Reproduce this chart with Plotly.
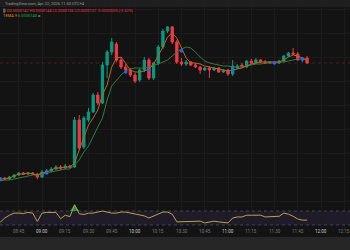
import plotly.graph_objects as go
import numpy as np
import pandas as pd

# 3-minute candles, prices in units of 1e-6
times = pd.date_range("2026-04-22 08:33", periods=67, freq="3min")
opens = [2.0,2.2,2.1,2.3,2.5,2.7,2.6,2.7,2.6,2.3, 2.8,2.9,3.1,3.3,3.2,3.4,3.3,8.0,5.3,8.0,
         8.8,10.5,9.7,13.5,14.8,15.6,14.0,13.3,13.0,12.5, 12.0,13.0,14.0,12.2,13.7,15.3,16.9,17.3,15.8,13.8,
         13.6,13.8,13.5,13.3,13.0,13.2,13.0,13.2,12.8,13.0, 12.6,13.2,13.5,13.3,13.9,13.7,14.0,13.8,13.7,13.8,
         13.7,13.9,14.4,14.7,14.6,14.0,14.2]
highs = [2.3,2.3,2.4,2.6,2.8,2.8,2.8,2.8,2.7,3.0, 3.1,3.3,3.5,3.5,3.6,3.5,8.3,8.5,8.4,9.2,
         10.7,10.8,13.8,15.0,16.2,15.8,14.3,13.6,13.2,12.7, 13.2,14.3,14.2,13.8,15.5,17.1,17.4,17.4,16.0,14.2,
         14.0,13.9,13.7,13.4,13.3,13.4,13.3,13.3,13.1,13.1, 14.0,13.6,13.7,14.0,14.1,14.2,14.1,14.0,13.9,13.9,
         14.0,14.5,14.8,15.2,14.8,14.3,14.4]
lows = [1.9,2.0,2.0,2.2,2.4,2.5,2.5,2.5,2.1,2.2, 2.6,2.8,3.0,3.0,3.1,3.2,3.2,5.0,5.1,7.8,
        8.7,9.5,9.6,12.2,14.5,13.8,13.1,12.8,12.3,11.7, 11.8,12.8,12.0,12.0,13.5,15.1,16.7,15.6,13.6,13.4,
        13.4,13.4,13.2,12.6,12.9,12.2,12.9,12.7,12.7,12.4, 12.4,13.1,13.2,13.2,13.6,13.6,13.7,13.6,13.6,13.6,
        13.6,13.8,14.3,14.5,13.9,13.8,13.6]
closes = [2.2,2.1,2.3,2.5,2.7,2.6,2.7,2.6,2.3,2.8, 2.9,3.1,3.3,3.2,3.4,3.3,8.0,5.2,8.2,8.8,
          10.5,9.7,13.5,14.8,15.8,14.0,13.3,13.0,12.5,11.9, 13.0,14.0,12.2,13.7,15.3,16.9,17.3,15.8,13.8,13.6,
          13.8,13.5,13.3,13.0,13.2,13.0,13.2,12.8,13.0,12.6, 13.4,13.4,13.3,13.9,13.7,14.0,13.8,13.7,13.8,13.7,
          13.9,14.4,14.7,14.6,14.0,14.2,13.7]
tema_fast = [2.1,2.1,2.2,2.4,2.6,2.6,2.7,2.6,2.5,2.7, 2.8,3.0,3.2,3.2,3.3,3.3,3.7,5.0,6.3,7.5,
             8.2,9.0,10.5,11.5,13.3,14.2,14.3,13.6,13.0,12.8, 12.8,12.9,13.1,13.6,14.4,15.3,16.3,16.7,16.2,15.2,
             14.2,13.7,13.7,13.6,13.4,13.3,13.2,13.1,13.0,12.9, 13.0,13.1,13.2,13.4,13.6,13.7,13.8,13.8,13.8,13.8,
             13.8,14.0,14.3,14.5,14.4,14.2,14.0]
tema_slow = [1.9,2.0,2.0,2.1,2.2,2.3,2.4,2.5,2.5,2.6, 2.7,2.8,2.9,3.0,3.1,3.1,3.5,4.0,4.8,5.4,
             6.4,7.3,8.2,10.0,11.4,12.0,12.5,12.9,13.1,13.2, 13.2,13.2,13.3,13.5,13.6,13.8,14.0,14.4,14.8,15.1,
             15.3,15.2,14.8,14.3,13.9,13.7,13.6,13.5,13.4,13.4, 13.3,13.3,13.3,13.4,13.5,13.6,13.6,13.7,13.7,13.7,
             13.8,13.8,13.9,14.0,14.1,14.1,14.0]
rsi = [38,50,58,64,64,63,66,64,40,64, 66,67,66,48,58,54,88,62,60,64,
       64,67,70,67,64,64,67,67,64,61, 58,56,50,56,61,67,67,61,39,39,
       39,39,39,41,36,39,41,39,38,36, 50,53,53,58,58,58,58,53,53,53,
       55,64,61,55,47,44,44]
cross_idx = [0, 10, 27, 32, 39, 50, 59, 65]
cross_price = [2.1, 2.7, 12.8, 13.0, 14.9, 13.0, 13.7, 14.1]
tick_times = pd.date_range("2026-04-22 08:45", "2026-04-22 12:15", freq="15min")

SCALE = 1e-6
BG = "#131313"
W, H = 350, 250

def py(px):  # paper fraction from pixel row
    return (H - px) / H

fig = go.Figure()

# RSI band shapes
fig.add_shape(type="rect", xref="x2 domain", yref="y2", x0=0, x1=1, y0=30, y1=70,
              fillcolor="rgba(126,87,194,0.12)", line_width=0, layer="below")
for lv in (70, 30):
    fig.add_shape(type="line", xref="x2 domain", yref="y2", x0=0, x1=1, y0=lv, y1=lv,
                  line=dict(color="rgba(120,123,134,0.45)", width=1, dash="dot"))

# last price line
fig.add_shape(type="line", xref="x domain", yref="y", x0=0, x1=1,
              y0=closes[-1] * SCALE, y1=closes[-1] * SCALE,
              line=dict(color="rgba(242,54,69,0.25)", width=1, dash="dot"))

fig.add_trace(go.Candlestick(
    x=times, open=np.array(opens) * SCALE, high=np.array(highs) * SCALE,
    low=np.array(lows) * SCALE, close=np.array(closes) * SCALE,
    increasing=dict(line=dict(color="#089981", width=1), fillcolor="#089981"),
    decreasing=dict(line=dict(color="#f23645", width=1), fillcolor="#f23645"),
    whiskerwidth=0, xaxis="x", yaxis="y", hoverinfo="skip"))
fig.add_trace(go.Scatter(x=times, y=np.array(tema_slow) * SCALE, mode="lines",
                         line=dict(color="#2f7d3e", width=1), xaxis="x", yaxis="y"))
fig.add_trace(go.Scatter(x=times, y=np.array(tema_fast) * SCALE, mode="lines",
                         line=dict(color="#b5651d", width=1), xaxis="x", yaxis="y"))
fig.add_trace(go.Scatter(x=times[cross_idx], y=np.array(cross_price) * SCALE, mode="markers",
                         marker=dict(color="#2962ff", size=3.5), xaxis="x", yaxis="y"))

# RSI
rsi_arr = np.array(rsi, dtype=float)
fig.add_trace(go.Scatter(x=times, y=[70] * len(rsi), mode="lines", line=dict(width=0),
                         xaxis="x2", yaxis="y2"))
fig.add_trace(go.Scatter(x=times, y=np.maximum(rsi_arr, 70), mode="lines", line=dict(width=0),
                         fill="tonexty", fillcolor="rgba(40,190,80,0.75)", xaxis="x2", yaxis="y2"))
fig.add_trace(go.Scatter(x=times, y=rsi_arr, mode="lines",
                         line=dict(color="#b8a24a", width=1), xaxis="x2", yaxis="y2"))

xr = ["2026-04-22 08:32:54", "2026-04-22 12:18:42"]

# price grid every 2.4e-6 starting 2.25e-6
p0, p1 = -0.3, 19.3
fig.update_layout(
    width=W, height=H, margin=dict(l=0, r=0, t=0, b=0),
    paper_bgcolor=BG, plot_bgcolor=BG, showlegend=False,
    xaxis=dict(domain=[0, 1], anchor="y", range=xr, type="date", showticklabels=False,
               tickvals=tick_times, showgrid=True, gridcolor="#1c1c1c", gridwidth=1,
               zeroline=False, rangeslider=dict(visible=False), showline=False),
    yaxis=dict(domain=[py(203), py(7)], anchor="x", range=[p0 * SCALE, p1 * SCALE],
               showticklabels=False, showgrid=True, gridcolor="#1c1c1c",
               tick0=2.25 * SCALE, dtick=2.4 * SCALE, zeroline=False),
    xaxis2=dict(domain=[0, 1], anchor="y2", range=xr, type="date", matches="x",
                tickvals=tick_times, showticklabels=False, showgrid=True, gridcolor="#1c1c1c",
                ticks="", zeroline=False, showline=False),
    yaxis2=dict(domain=[py(229), py(203)], anchor="x2", range=[18.6, 92.9],
                showticklabels=False, showgrid=False, zeroline=False),
)

# time labels
for t in tick_times:
    s = t.strftime("%H:%M")
    col = "#c8c8c8" if t.minute == 0 else "#7a7a7a"
    fig.add_annotation(xref="x2", yref="paper", x=t, y=py(231), xanchor="center", yanchor="middle",
                       text=s, showarrow=False, font=dict(family="Roboto", size=4.5, color=col))

# top & bottom bars
fig.add_shape(type="rect", xref="paper", yref="paper", x0=0, x1=1, y0=py(7), y1=1,
              fillcolor="#1f1f1f", line_width=0, layer="above")
fig.add_shape(type="rect", xref="paper", yref="paper", x0=0, x1=1, y0=0, y1=py(237),
              fillcolor="#262626", line_width=0, layer="above")

fig.add_annotation(xref="paper", yref="paper", x=0.008, y=py(3.5), xanchor="left", yanchor="middle",
                   text="TradingView.com, Apr 22, 2026 11:50 UTC+4", showarrow=False,
                   font=dict(family="Roboto", size=4, color="#9a9a9a"))
last = len(closes) - 1
chg = closes[last] - closes[last - 1]
leg1 = (f"<span style='color:#d0d0d0'>₿</span> O{opens[last]*SCALE:.7f} H{highs[last]*SCALE:.7f} "
        f"L{lows[last]*SCALE:.7f} C{closes[last]*SCALE:.7f} {chg*SCALE:+.7f} ({chg/closes[last-1]*100:+.2f}%)")
fig.add_annotation(xref="paper", yref="paper", x=0.003, y=py(10.5), xanchor="left", yanchor="middle",
                   text=leg1, showarrow=False, font=dict(family="Roboto", size=4, color="#f23645"))
leg2 = (f"<span style='color:#e08a2a'>TEMA 9</span> "
        f"<span style='color:#22ab5a'>{tema_fast[last]*SCALE:.7f}</span> "
        f"<span style='color:#9a9a9a'>ø</span>")
fig.add_annotation(xref="paper", yref="paper", x=0.003, y=py(15.5), xanchor="left", yanchor="middle",
                   text=leg2, showarrow=False, font=dict(family="Roboto", size=4, color="#e08a2a"))

fig.write_html("out.html")
